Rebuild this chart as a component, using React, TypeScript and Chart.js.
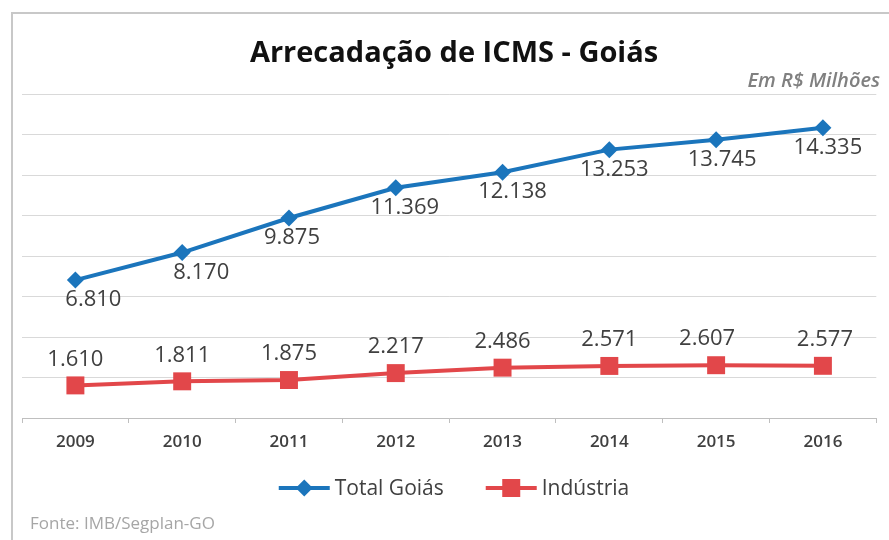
import React, { useEffect, useRef } from 'react';
import { Chart, registerables } from 'chart.js';

Chart.register(...registerables);

// ---------- data ----------
const categories = ['2009', '2010', '2011', '2012', '2013', '2014', '2015', '2016'];
const totalGoias = [6810, 8170, 9875, 11369, 12138, 13253, 13745, 14335];
const industria = [1610, 1811, 1875, 2217, 2486, 2571, 2607, 2577];
const seriesNames = ['Total Goiás', 'Indústria'];
const yMin = 0;
const yMax = 16000;
const yStep = 2000;
const titleText = 'Arrecadação de ICMS - Goiás';
const unitText = 'Em R$ Milhões';
const sourceText = 'Fonte: IMB/Segplan-GO';

// ---------- style ----------
const BLUE = '#1B75BC';
const RED = '#E2474A';
const FONT = '"Open Sans", Lato, sans-serif';
const TEXT = '#404040';
// small horizontal nudges of value labels, relative to their points
const totalLabelDx = [18, 19, 3, 9, 10, 5, 6, 5];
const industriaLabelDx = [0, 0, 0, 0, 0, 0, -9, 2];
const labelDy = [20, -26];

function fmt(v: number): string {
  return String(v).replace(/\B(?=(\d{3})+(?!\d))/g, '.');
}

function drawMarker(ctx: CanvasRenderingContext2D, style: string, x: number, y: number, color: string) {
  ctx.fillStyle = color;
  ctx.beginPath();
  if (style === 'rectRot') {
    const r = 8.5;
    ctx.moveTo(x - r, y);
    ctx.lineTo(x, y - r);
    ctx.lineTo(x + r, y);
    ctx.lineTo(x, y + r);
    ctx.closePath();
  } else {
    const h = 9;
    ctx.rect(x - h, y - h, 2 * h, 2 * h);
  }
  ctx.fill();
}

const valueLabelPlugin = {
  id: 'valueLabels',
  afterDatasetsDraw(chart: any) {
    const ctx = chart.ctx as CanvasRenderingContext2D;
    ctx.save();
    ctx.font = `22px ${FONT}`;
    ctx.fillStyle = TEXT;
    ctx.textAlign = 'center';
    ctx.textBaseline = 'middle';
    chart.data.datasets.forEach((ds: any, i: number) => {
      const meta = chart.getDatasetMeta(i);
      const dxs = i === 0 ? totalLabelDx : industriaLabelDx;
      meta.data.forEach((pt: any, j: number) => {
        ctx.fillText(fmt(ds.data[j]), pt.x + dxs[j], pt.y + labelDy[i]);
      });
    });
    ctx.restore();
  },
};

const decorPlugin = {
  id: 'decor',
  beforeDraw(chart: any) {
    const ctx = chart.ctx as CanvasRenderingContext2D;
    ctx.save();
    ctx.strokeStyle = '#c8c8c8';
    ctx.lineWidth = 2;
    ctx.beginPath();
    ctx.moveTo(12, chart.height);
    ctx.lineTo(12, 13);
    ctx.lineTo(chart.width, 13);
    ctx.stroke();
    ctx.restore();
  },
  afterDraw(chart: any) {
    const ctx = chart.ctx as CanvasRenderingContext2D;
    ctx.save();
    // title
    ctx.fillStyle = '#111111';
    ctx.font = `bold 29px ${FONT}`;
    ctx.textAlign = 'center';
    ctx.textBaseline = 'alphabetic';
    ctx.fillText(titleText, 454, 62);
    // unit
    ctx.fillStyle = '#808080';
    ctx.font = `italic 600 20px ${FONT}`;
    ctx.textAlign = 'right';
    ctx.fillText(unitText, 880, 87);
    // source
    ctx.fillStyle = '#a6a6a6';
    ctx.font = `17px ${FONT}`;
    ctx.textAlign = 'left';
    ctx.fillText(sourceText, 30, 529);
    // legend
    const ly = 488;
    const lineLen = 51;
    const gapText = 5;
    const gapItems = 42;
    ctx.font = `21px ${FONT}`;
    const items = chart.data.datasets.map((ds: any) => ({
      label: ds.label,
      color: ds.borderColor,
      style: ds.pointStyle,
      w: lineLen + gapText + ctx.measureText(ds.label).width,
    }));
    const total = items.reduce((a: number, it: any) => a + it.w, 0) + gapItems * (items.length - 1);
    let x = 454 - total / 2;
    items.forEach((it: any) => {
      ctx.strokeStyle = it.color;
      ctx.lineWidth = 4;
      ctx.beginPath();
      ctx.moveTo(x, ly);
      ctx.lineTo(x + lineLen, ly);
      ctx.stroke();
      drawMarker(ctx, it.style, x + lineLen / 2, ly, it.color);
      ctx.fillStyle = TEXT;
      ctx.textAlign = 'left';
      ctx.textBaseline = 'middle';
      ctx.fillText(it.label, x + lineLen + gapText, ly + 1);
      x += it.w + gapItems;
    });
    ctx.restore();
  },
};

export default function App() {
  const ref = useRef<HTMLCanvasElement | null>(null);

  useEffect(() => {
    if (!ref.current) return;
    const chart = new Chart(ref.current, {
      type: 'line',
      data: {
        labels: categories,
        datasets: [
          {
            label: seriesNames[0],
            data: totalGoias,
            borderColor: BLUE,
            backgroundColor: BLUE,
            borderWidth: 4,
            pointStyle: 'rectRot',
            pointRadius: 8.5,
            pointBorderWidth: 0,
            pointBackgroundColor: BLUE,
            tension: 0,
            clip: false as any,
          },
          {
            label: seriesNames[1],
            data: industria,
            borderColor: RED,
            backgroundColor: RED,
            borderWidth: 4,
            pointStyle: 'rect',
            pointRadius: 12.7,
            pointBorderWidth: 0,
            pointBackgroundColor: RED,
            tension: 0,
            clip: false as any,
          },
        ],
      },
      options: {
        animation: false,
        responsive: false,
        devicePixelRatio: 1,
        layout: { padding: { left: 22, top: 94, right: 0, bottom: 0 } },
        plugins: {
          legend: { display: false },
          title: { display: false },
          tooltip: { enabled: false },
        },
        scales: {
          x: {
            type: 'category',
            offset: true,
            grid: {
              display: true,
              drawOnChartArea: false,
              drawTicks: true,
              tickLength: 5,
              offset: true,
              color: '#bfbfbf',
            },
            border: { display: true, color: '#bfbfbf', width: 1 },
            ticks: {
              font: { family: FONT, size: 17, weight: '600' },
              color: TEXT,
              padding: 9,
              maxRotation: 0,
              autoSkip: false,
            },
            afterFit: (s: any) => {
              s.height = 122;
            },
          },
          y: {
            min: yMin,
            max: yMax,
            ticks: { stepSize: yStep, display: false },
            grid: { color: '#d9d9d9', drawTicks: false, lineWidth: 1 },
            border: { display: false },
            afterFit: (s: any) => {
              s.width = 0;
            },
          },
        },
      },
      plugins: [decorPlugin, valueLabelPlugin],
    });
    return () => chart.destroy();
  }, []);

  return (
    <div style={{ position: 'absolute', left: 0, top: 0, width: 889, height: 540, background: '#fff' }}>
      <canvas ref={ref} width={889} height={540} style={{ display: 'block' }} />
    </div>
  );
}
